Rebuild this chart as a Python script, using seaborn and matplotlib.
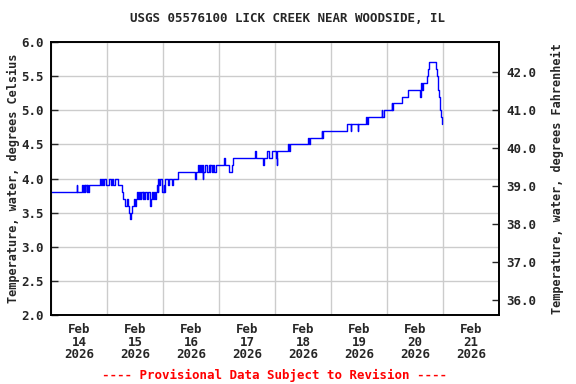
import numpy as np
import pandas as pd
import matplotlib
matplotlib.use("Agg")
import matplotlib.pyplot as plt
import matplotlib.dates as mdates
from matplotlib.ticker import FormatStrFormatter
import seaborn as sns

# step changes: hours after 2026-02-14 00:00 and water temperature (deg C)
hours = [
    0, 11.0, 11.25, 13.25, 13.5, 14.0, 14.5, 14.75, 15.25, 15.5, 16.0, 16.25,
    21.0, 21.5, 21.75, 22.25, 22.5, 23.5, 25.0, 25.75, 26.0, 26.75, 27.25, 28.5,
    30.25, 30.75, 31.75, 32.75, 33.0, 33.25, 33.75, 34.25, 34.75, 35.5, 36.0, 36.25,
    37.0, 37.25, 37.75, 38.25, 38.5, 39.25, 39.5, 40.0, 40.25, 41.0, 41.5, 42.5,
    42.75, 43.25, 43.75, 44.0, 44.75, 45.0,
    45.5, 45.75, 46.0, 46.25, 46.5, 47.5, 47.75, 48.25, 48.5, 49.0, 50.25, 50.5,
    52.0, 52.25,
    54.5, 61.75, 62.0, 63.0, 63.25, 64.0, 64.25, 64.75, 65.0, 65.25, 66.0, 67.0,
    67.5, 68.0, 68.25, 69.0, 69.5, 70.0, 70.75,
    74.25, 74.5, 76.25, 77.5, 78.0, 87.5, 88.0, 90.75, 91.25, 92.75, 93.25, 94.75,
    96.5, 96.75, 97.0,
    101.75, 102.0, 102.25, 110.25, 110.5, 111.0, 116.0, 116.25, 116.5,
    127.0, 128.5, 128.75, 131.5, 131.75, 135.0, 135.25, 135.75,
    141.75, 142.0, 142.5, 146.0, 146.25, 146.5, 150.25, 153.0, 158.25, 158.5,
    158.75, 159.0, 159.25, 161.0, 161.5, 162.0,
    165.0, 165.5, 165.75, 166.0, 166.25, 166.5, 166.75, 167.0, 167.5, 167.75,
]
temps = [
    3.8, 3.9, 3.8, 3.9, 3.8, 3.9, 3.8, 3.9, 3.8, 3.9, 3.8, 3.9,
    4.0, 3.9, 4.0, 3.9, 4.0, 3.9, 4.0, 3.9, 4.0, 3.9, 4.0, 3.9,
    3.8, 3.7, 3.6, 3.7, 3.6, 3.5, 3.4, 3.5, 3.6, 3.7, 3.6, 3.7,
    3.8, 3.7, 3.8, 3.7, 3.8, 3.7, 3.8, 3.7, 3.8, 3.7, 3.8, 3.6,
    3.7, 3.8, 3.7, 3.8, 3.7, 3.8,
    3.9, 3.8, 4.0, 3.9, 4.0, 3.9, 3.8, 3.9, 3.8, 4.0, 3.9, 4.0,
    3.9, 4.0,
    4.1, 4.0, 4.1, 4.2, 4.1, 4.2, 4.1, 4.2, 4.0, 4.1, 4.2, 4.1,
    4.2, 4.1, 4.2, 4.1, 4.2, 4.1, 4.2,
    4.3, 4.2, 4.1, 4.2, 4.3, 4.4, 4.3, 4.2, 4.3, 4.4, 4.3, 4.4,
    4.3, 4.2, 4.4,
    4.5, 4.4, 4.5, 4.6, 4.5, 4.6, 4.7, 4.6, 4.7,
    4.8, 4.7, 4.8, 4.7, 4.8, 4.9, 4.8, 4.9,
    5.0, 4.9, 5.0, 5.1, 5.0, 5.1, 5.2, 5.3, 5.2, 5.3,
    5.4, 5.3, 5.4, 5.5, 5.6, 5.7,
    5.6, 5.5, 5.4, 5.3, 5.2, 5.1, 5.0, 4.9, 4.8, 4.8,
]
yticks_c = [2.0, 2.5, 3.0, 3.5, 4.0, 4.5, 5.0, 5.5, 6.0]
yticks_f = [36.0, 37.0, 38.0, 39.0, 40.0, 41.0, 42.0]

start = pd.Timestamp("2026-02-14")
df = pd.DataFrame({"time": start + pd.to_timedelta(hours, unit="h"), "temp": temps})

sns.set_style("white")
plt.rcParams["font.family"] = ["DejaVu Sans Mono"]
plt.rcParams["font.weight"] = "bold"
plt.rcParams["font.size"] = 9

fig = plt.figure(figsize=(5.76, 3.84), dpi=100)
ax = fig.add_axes([51 / 576, 1 - 315 / 384, 448 / 576, 273 / 384])

sns.lineplot(data=df, x="time", y="temp", ax=ax, color="#0000ff", lw=1.0,
             drawstyle="steps-post", estimator=None, sort=False)

ax.set_xlim(start, start + pd.Timedelta(days=8))
ax.set_ylim(2.0, 6.0)
ax.set_yticks(yticks_c)
ax.yaxis.set_major_formatter(FormatStrFormatter("%.1f"))

ax.xaxis.set_major_locator(mdates.DayLocator())
ax.xaxis.set_major_formatter(plt.NullFormatter())
ax.xaxis.set_minor_locator(mdates.HourLocator(byhour=12))
ax.xaxis.set_minor_formatter(mdates.DateFormatter("%b\n%d\n%Y"))
ax.tick_params(axis="x", which="both", length=0, pad=6)
ax.tick_params(axis="y", direction="in", length=5, width=1, pad=5)
for lbl in ax.get_xticklabels(minor=True):
    lbl.set_fontweight("bold")
    lbl.set_linespacing(0.95)

ax.grid(True, which="major", color="#cccccc", lw=1)
ax.set_axisbelow(True)
for s in ax.spines.values():
    s.set_color("black")
    s.set_linewidth(1.2)

ax.set_xlabel("")
ax.set_ylabel("Temperature, water, degrees Celsius", fontweight="bold",
              fontsize=8.6, labelpad=1)

ax2 = ax.twinx()
ax2.set_ylim(2.0 * 1.8 + 32, 6.0 * 1.8 + 32)
ax2.set_yticks(yticks_f)
ax2.yaxis.set_major_formatter(FormatStrFormatter("%.1f"))
ax2.tick_params(axis="y", direction="in", length=5, width=1, pad=5)
ax2.set_ylabel("Temperature, water, degrees Fahrenheit", fontweight="bold",
               fontsize=8.6, rotation=90, labelpad=11)
for s in ax2.spines.values():
    s.set_color("black")
    s.set_linewidth(1.2)

fig.text(288 / 576, 1 - 19 / 384, "USGS 05576100 LICK CREEK NEAR WOODSIDE, IL",
         ha="center", va="center", fontweight="bold")
fig.text(275 / 576, 1 - 375 / 384, "---- Provisional Data Subject to Revision ----",
         ha="center", va="center", color="red", fontweight="bold")

fig.savefig("out.png", dpi=100, facecolor="white")
